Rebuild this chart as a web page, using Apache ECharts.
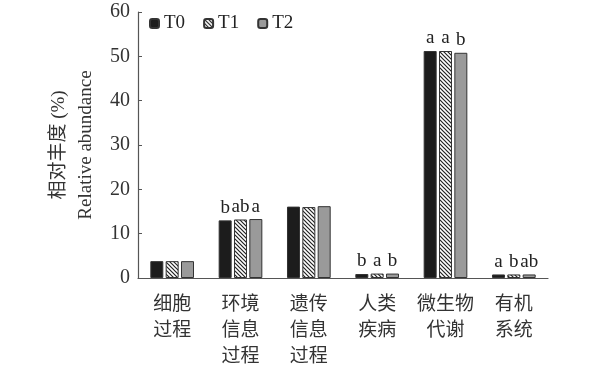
<!DOCTYPE html>
<html><head><meta charset="utf-8">
<script src="https://cdn.jsdelivr.net/npm/echarts@6/dist/echarts.min.js"></script>
<style>html,body{margin:0;padding:0;background:#fff}#c{width:600px;height:368px}</style>
</head><body><div id="c"></div>
<script>
const categories = ['细胞\n过程', '环境\n信息\n过程', '遗传\n信息\n过程', '人类\n疾病', '微生物\n代谢', '有机\n系统'];
const seriesNames = ['T0', 'T1', 'T2'];
const t0 = [3.8, 13.0, 16.1, 0.9, 51.2, 0.8];
const t1 = [3.8, 13.2, 16.0, 1.0, 51.2, 0.8];
const t2 = [3.8, 13.3, 16.2, 1.0, 50.8, 0.8];
const letT0 = ['', 'b', '', 'b', 'a', 'a'];
const letT1 = ['', 'ab', '', 'a', 'a', 'b'];
const letT2 = ['', 'a', '', 'b', 'b', 'ab'];
const yTicks = [0, 10, 20, 30, 40, 50, 60];

function hatch() {
  const c = document.createElement('canvas');
  c.width = 4; c.height = 4;
  const g = c.getContext('2d');
  g.fillStyle = '#fff'; g.fillRect(0, 0, 4, 4);
  g.strokeStyle = '#222'; g.lineWidth = 1.2;
  g.beginPath();
  g.moveTo(-1, -1); g.lineTo(5, 5);
  g.moveTo(-1, 3); g.lineTo(1, 5);
  g.moveTo(3, -1); g.lineTo(5, 1);
  g.stroke();
  return c;
}
const fills = ['#1c1c1c', { image: hatch(), repeat: 'repeat' }, '#9a9a9a'];
const datas = [t0, t1, t2];
const lets = [letT0, letT1, letT2];
const serif = 'Liberation Serif, Times New Roman, serif';
const chart = echarts.init(document.getElementById('c'), null, { renderer: 'canvas' });
chart.setOption({
  animation: false,
  grid: { left: 138, right: 52, top: 12, bottom: 85 },
  legend: {
    top: 9, left: 144, itemWidth: 9, itemHeight: 9, itemGap: 18,
    textStyle: { fontFamily: serif, fontSize: 19, color: '#222' },
    data: seriesNames
  },
  xAxis: {
    type: 'category', data: categories,
    axisLine: { lineStyle: { color: '#555', width: 1.2 } },
    axisTick: { show: false },
    axisLabel: { fontFamily: 'Noto Sans CJK SC', fontSize: 19, color: '#333', lineHeight: 26, margin: 12, interval: 0 }
  },
  yAxis: {
    type: 'value', min: yTicks[0], max: yTicks[yTicks.length - 1], interval: 10,
    name: '相对丰度 (%)\nRelative abundance', nameLocation: 'middle', nameGap: 38,
    nameTextStyle: { fontFamily: 'Liberation Serif, Noto Sans CJK SC', fontSize: 19, color: '#333', lineHeight: 27 },
    axisLine: { show: true, lineStyle: { color: '#555', width: 1.2 } },
    axisTick: { show: true, inside: true, length: 4, lineStyle: { color: '#555' } },
    splitLine: { show: false },
    axisLabel: { fontFamily: serif, fontSize: 20, color: '#333', margin: 8 }
  },
  series: seriesNames.map((n, i) => ({
    name: n, type: 'bar', barWidth: 13, barGap: '18%',
    data: datas[i],
    itemStyle: { color: fills[i], borderColor: '#333', borderWidth: 1 },
    label: {
      show: true, position: 'top', distance: 3,
      fontFamily: serif, fontSize: 19, color: '#222',
      formatter: p => lets[i][p.dataIndex]
    }
  }))
});
</script></body></html>
